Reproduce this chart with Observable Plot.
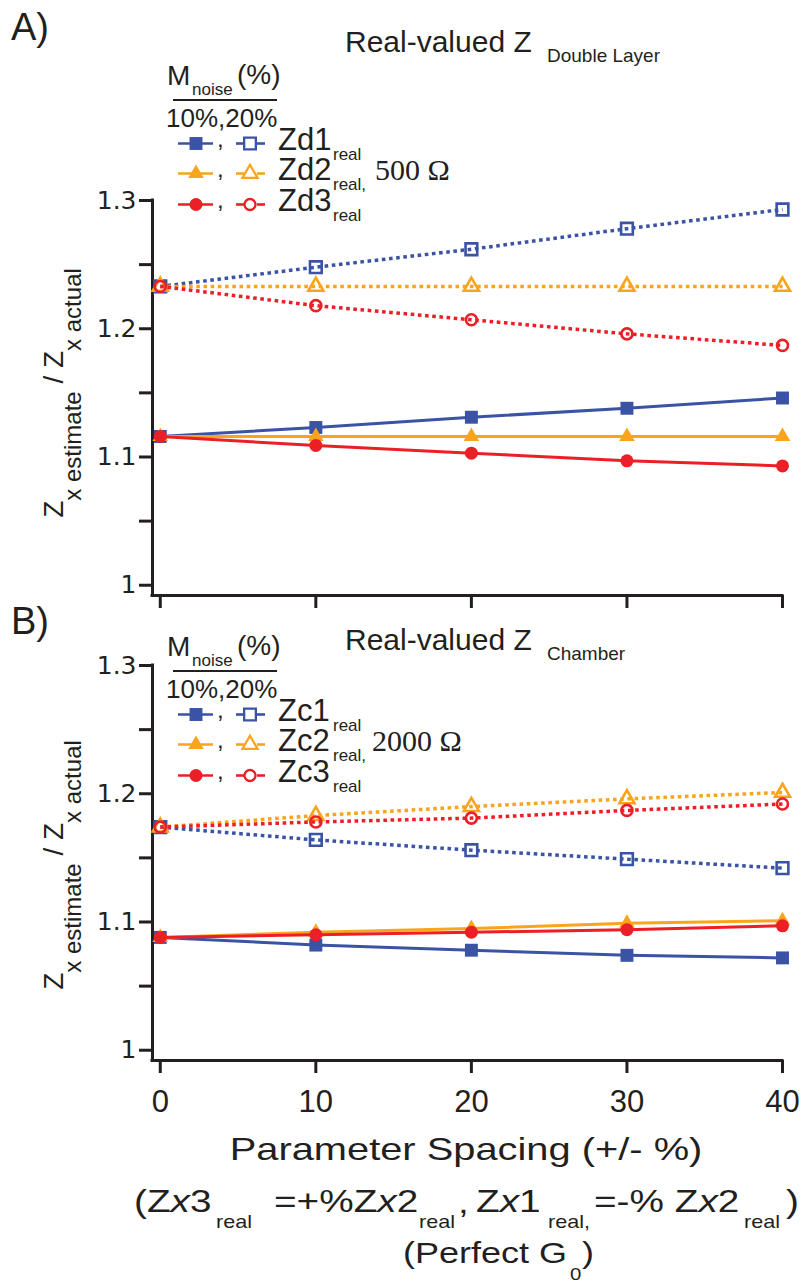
<!DOCTYPE html>
<html><head><meta charset="utf-8">
<script src="https://cdn.jsdelivr.net/npm/d3@7"></script>
<script src="https://cdn.jsdelivr.net/npm/@observablehq/plot@0.6"></script>
<style>
html,body{margin:0;padding:0;background:#fff;}
#root{position:relative;width:804px;height:1287px;overflow:hidden;background:#fff;}
#root > svg{position:absolute;left:0;}
</style></head><body><div id="root"></div>
<script>
// ---------- data ----------
const xValues = [0, 10, 20, 30, 40];
const xTicks = [0, 10, 20, 30, 40];
const yTicksMajor = [1, 1.1, 1.2, 1.3];
const yTicksMinor = [1.05, 1.15, 1.25];

// Panel A (Double layer, 500 Ω)
const zd1_10 = [1.116, 1.123, 1.131, 1.138, 1.146];
const zd2_10 = [1.116, 1.116, 1.116, 1.116, 1.116];
const zd3_10 = [1.116, 1.109, 1.103, 1.097, 1.093];
const zd1_20 = [1.233, 1.248, 1.262, 1.278, 1.293];
const zd2_20 = [1.233, 1.233, 1.233, 1.233, 1.233];
const zd3_20 = [1.233, 1.218, 1.207, 1.196, 1.187];

// Panel B (Chamber, 2000 Ω)
const zc1_10 = [1.088, 1.082, 1.078, 1.074, 1.072];
const zc2_10 = [1.088, 1.092, 1.095, 1.099, 1.101];
const zc3_10 = [1.088, 1.090, 1.092, 1.094, 1.097];
const zc1_20 = [1.174, 1.164, 1.156, 1.149, 1.142];
const zc2_20 = [1.174, 1.183, 1.190, 1.196, 1.201];
const zc3_20 = [1.174, 1.178, 1.181, 1.187, 1.192];

const seriesNamesA = ["Zd1", "Zd2", "Zd3"];
const seriesNamesB = ["Zc1", "Zc2", "Zc3"];
const noiseLevels = ["10%", "20%"];

// ---------- styles ----------
const BLUE = "#3a53a4", ORANGE = "#f8a51d", RED = "#ec1f26", INK = "#231f20";
const colors = [BLUE, ORANGE, RED];
const symbols = ["square", "triangle", "circle"];
const rFilled = {square: 7.3, triangle: 5.8, circle: 6.5};
const rOpen = {square: 6.6, triangle: 5.6, circle: 5.5};

function buildSeries(ten, twenty) {
  const out = [];
  for (let i = 0; i < 3; i++) out.push({values: twenty[i], color: colors[i], symbol: symbols[i], open: true});
  for (let i = 0; i < 3; i++) out.push({values: ten[i], color: colors[i], symbol: symbols[i], open: false});
  return out;
}
const seriesA = buildSeries([zd1_10, zd2_10, zd3_10], [zd1_20, zd2_20, zd3_20]);
const seriesB = buildSeries([zc1_10, zc2_10, zc3_10], [zc1_20, zc2_20, zc3_20]);

function panel(series, showXLabels, height, marginBottom) {
  const marks = [
    Plot.axisY({ticks: yTicksMajor, tickFormat: d => d === 1 ? "1" : d.toFixed(1), tickSize: 13, tickPadding: 3,
      strokeWidth: 3, fontSize: 25, fontFamily: "DejaVu Sans", label: null, anchor: "left", color: INK}),
    Plot.axisY({ticks: yTicksMinor, tickFormat: () => "", tickSize: 13, strokeWidth: 3, label: null, anchor: "left", color: INK}),
    Plot.axisX({ticks: xTicks, tickFormat: showXLabels ? d => String(d) : () => "", tickSize: 13, tickPadding: 16,
      strokeWidth: 3, fontSize: 31, fontFamily: "Liberation Sans", label: null, anchor: "bottom", color: INK}),
    Plot.ruleX([-0.5], {y1: 0.992, y2: 1.3, stroke: INK, strokeWidth: 3, strokeLinecap: "square"}),
    Plot.ruleY([0.992], {x1: -0.5, x2: 40, stroke: INK, strokeWidth: 3, strokeLinecap: "square"})
  ];
  for (const s of series) {
    const rows = xValues.map((x, i) => ({x, y: s.values[i]}));
    marks.push(Plot.line(rows, {x: "x", y: "y", stroke: s.color, strokeWidth: s.open ? 3.5 : 3,
      strokeDasharray: s.open ? "3.6,3.6" : null, strokeLinecap: "butt"}));
    marks.push(Plot.dot(rows, {x: "x", y: "y", symbol: s.symbol,
      r: s.open ? rOpen[s.symbol] : rFilled[s.symbol],
      fill: s.open ? "none" : s.color, stroke: s.open ? s.color : "none", strokeWidth: 2.6}));
  }
  return Plot.plot({
    width: 804, height, marginTop: 50, marginBottom, marginLeft: 152, marginRight: 22,
    x: {domain: [-0.5, 40], label: null}, y: {domain: [0.992, 1.3], label: null},
    style: {background: "transparent", overflow: "visible", color: INK},
    marks
  });
}

const root = document.getElementById("root");
const svgA = panel(seriesA, false, 470, 25);
svgA.style.top = "150px";
root.appendChild(svgA);
const svgB = panel(seriesB, true, 515, 70);
svgB.style.top = "615px";
root.appendChild(svgB);

// ---------- overlay texts & legends ----------
const ov = d3.select(root).append("svg").attr("width", 804).attr("height", 1287)
  .style("position", "absolute").style("top", "0px").style("left", "0px");
const SANS = "Liberation Sans, Arial, sans-serif", SERIF = "Liberation Serif, Times New Roman, serif";

function txt(x, y, parts, size, opts = {}) {
  const sx = opts.sx || 1;
  const t = ov.append("text")
    .attr("transform", `translate(${x},${y}) scale(${sx},1)`)
    .attr("font-family", opts.family || SANS).attr("font-size", size)
    .attr("fill", INK).attr("text-anchor", opts.anchor || "start");
  if (typeof parts === "string") parts = [parts];
  for (const p of parts) {
    if (typeof p === "string") t.append("tspan").text(p);
    else t.append("tspan").text(p.t).attr("font-style", p.italic ? "italic" : null);
  }
  return t;
}

// panel letters and titles
txt(11, 40, "A)", 38);
txt(11, 634, "B)", 38);
txt(345, 52, "Real-valued Z", 30);
txt(547, 62, "Double Layer", 19);
txt(345, 650, "Real-valued Z", 30);
txt(547, 660, "Chamber", 19);

// y-axis titles
function yTitle(cy) {
  const t = ov.append("text").attr("transform", `translate(63,${cy}) rotate(-90)`)
    .attr("text-anchor", "middle").attr("font-family", SANS).attr("fill", INK).attr("font-size", 28);
  t.append("tspan").text("Z");
  t.append("tspan").attr("dy", 18).attr("font-size", 24).text("x estimate");
  t.append("tspan").attr("dy", -18).text(" / Z");
  t.append("tspan").attr("dy", 18).attr("font-size", 24).text("x actual");
}
yTitle(393);
yTitle(865);

// legends
function legend(off, names, ohm, ohmX) {
  txt(167, 85 + off, "M", 28);
  txt(192, 95 + off, "noise", 17);
  txt(237, 84 + off, "(%)", 28);
  ov.append("line").attr("x1", 173).attr("x2", 277).attr("y1", 100 + off).attr("y2", 100 + off)
    .attr("stroke", INK).attr("stroke-width", 2);
  txt(166, 127 + off, noiseLevels.join(","), 26);
  const baselines = [150, 180, 211];
  const subs = ["real", "real,", "real"];
  for (let i = 0; i < 3; i++) {
    const b = baselines[i] + off, my = b - 6.5, c = colors[i], sym = symbols[i];
    ov.append("line").attr("x1", 178).attr("x2", 213).attr("y1", my).attr("y2", my).attr("stroke", c).attr("stroke-width", 2.6);
    const symF = {square: d3.symbolSquare, triangle: d3.symbolTriangle, circle: d3.symbolCircle}[sym];
    ov.append("path").attr("d", d3.symbol(symF, Math.PI * rFilled[sym] ** 2)())
      .attr("transform", `translate(196,${my})`).attr("fill", c);
    txt(217, my + 3, ",", 24);
    ov.append("line").attr("x1", 236).attr("x2", 244).attr("y1", my).attr("y2", my).attr("stroke", c).attr("stroke-width", 2.6);
    ov.append("line").attr("x1", 257).attr("x2", 265).attr("y1", my).attr("y2", my).attr("stroke", c).attr("stroke-width", 2.6);
    ov.append("path").attr("d", d3.symbol(symF, Math.PI * rOpen[sym] ** 2)())
      .attr("transform", `translate(250,${my})`).attr("fill", "none").attr("stroke", c).attr("stroke-width", 2.3);
    txt(278, b, names[i], 31);
    txt(333, b + 10, subs[i], 17);
  }
  txt(ohmX, 180 + off, ohm, 30, {family: SERIF});
}
legend(0, seriesNamesA, "500 Ω", 375);
legend(571, seriesNamesB, "2000 Ω", 372);

// bottom labels
txt(466, 1160, "Parameter Spacing (+/- %)", 32, {anchor: "middle", sx: 1.245});
const S = 1.25;
txt(134, 1212, ["(Z", {t: "x", italic: true}, "3"], 31, {sx: S});
txt(216, 1228, "real", 18, {sx: 1.2});
txt(274, 1212, ["=+%Z", {t: "x", italic: true}, "2"], 31, {sx: S});
txt(419, 1228, "real", 18, {sx: 1.2});
txt(458, 1213, ",", 31, {sx: S});
txt(476, 1212, ["Z", {t: "x", italic: true}, "1"], 31, {sx: S});
txt(548, 1228, "real,", 18, {sx: 1.2});
txt(594, 1212, ["=-% Z", {t: "x", italic: true}, "2"], 31, {sx: S});
txt(744, 1228, "real", 18, {sx: 1.2});
txt(786, 1212, ")", 31, {sx: S});
txt(403, 1263, "(Perfect G", 30, {sx: 1.2});
txt(570, 1280, "0", 17, {sx: 1.2});
txt(582, 1263, ")", 30, {sx: 1.2});
</script></body></html>
